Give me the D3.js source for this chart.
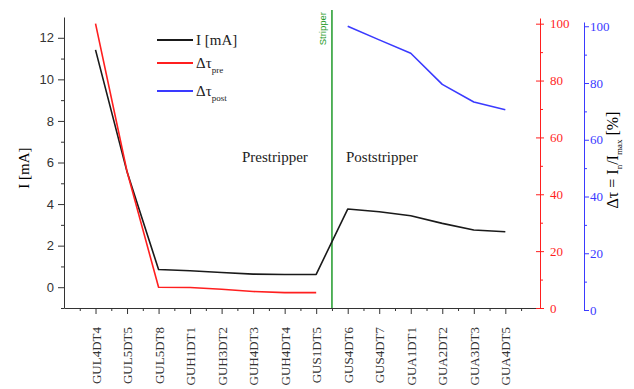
<!DOCTYPE html>
<html>
<head>
<meta charset="utf-8">
<script src="https://cdn.jsdelivr.net/npm/d3@7"></script>
<style>
  body { margin: 0; background: #fff; }
  svg { display: block; }
</style>
</head>
<body>
<div id="chart"></div>
<script>
const categories = ['GUL4DT4', 'GUL5DT5', 'GUL5DT8', 'GUH1DT1', 'GUH3DT2', 'GUH4DT3', 'GUH4DT4',
  'GUS1DT5', 'GUS4DT6', 'GUS4DT7', 'GUA1DT1', 'GUA2DT2', 'GUA3DT3', 'GUA4DT5'];
const current = [11.42, 5.55, 0.85, 0.79, 0.71, 0.63, 0.61, 0.62, 3.76, 3.63, 3.44, 3.07, 2.75, 2.67];
const tauPre = [100, 48, 7.3, 7.2, 6.6, 5.8, 5.4, 5.4];        // GUL4DT4 .. GUS1DT5
const tauPost = [100, 95.2, 90.5, 79.5, 73.3, 70.6];          // GUS4DT6 .. GUA4DT5
const postStart = 8;
const strippersAt = 7.5;
const currentTicks = [0, 2, 4, 6, 8, 10, 12];
const pctTicks = [0, 20, 40, 60, 80, 100];

const serif = '"Liberation Serif", "Times New Roman", serif';
const sans = '"Liberation Sans", Arial, sans-serif';

const W = 634, H = 389;
const svg = d3.select('#chart').append('svg')
  .attr('width', W).attr('height', H)
  .style('font-family', serif);

const x = d3.scaleLinear().domain([-1, 14.1]).range([64, 540]);
const yI = d3.scaleLinear().domain([-1, 13]).range([308, 17]);
const yPre = d3.scaleLinear().domain([0, 102]).range([308, 18]);
const yPost = d3.scaleLinear().domain([0, 101.5]).range([310, 22]);

// left axis (current)
const left = svg.append('g').attr('transform', 'translate(64,0)');
left.call(d3.axisLeft(yI).tickValues(currentTicks).tickSizeInner(6).tickSizeOuter(0).tickPadding(4));
left.append('g')
  .call(d3.axisLeft(yI).tickValues(d3.range(-1, 13, 2)).tickSize(3).tickFormat(''))
  .select('.domain').remove();
left.selectAll('path, line').attr('stroke', '#333');
left.selectAll('text')
  .style('font-family', sans)
  .style('font-size', '13px').attr('fill', '#333');

// bottom axis (categories)
const bottom = svg.append('g').attr('transform', 'translate(0,308)');
bottom.call(d3.axisBottom(x).tickValues(d3.range(categories.length))
  .tickSizeInner(6).tickSizeOuter(0).tickFormat(i => categories[i]));
bottom.append('g')
  .call(d3.axisBottom(x).tickValues(d3.range(-0.5, 14, 1)).tickSize(3).tickFormat(''))
  .select('.domain').remove();
bottom.selectAll('path, line').attr('stroke', '#333');
bottom.selectAll('text')
  .attr('transform', 'rotate(-90)')
  .attr('x', -19).attr('y', 0).attr('dy', '0.35em')
  .style('text-anchor', 'end')
  .style('font-family', serif)
  .style('font-size', '13px').attr('fill', '#333');

// right red axis (tau pre)
const red = '#ff1f1f';
const rAx = svg.append('g').attr('transform', 'translate(540,0)');
rAx.call(d3.axisRight(yPre).tickValues(pctTicks).tickSizeInner(4).tickSizeOuter(0).tickPadding(6));
rAx.selectAll('.tick line').attr('x1', -4);
rAx.append('g')
  .call(d3.axisRight(yPre).tickValues(d3.range(10, 100, 20)).tickSize(3).tickFormat(''))
  .select('.domain').remove();
rAx.selectAll('path, line').attr('stroke', red);
rAx.selectAll('text').attr('fill', red)
  .style('font-family', serif).style('font-size', '13px');

// right blue axis (tau post)
const blue = '#3a3aff';
const bAx = svg.append('g').attr('transform', 'translate(584,0)');
bAx.call(d3.axisRight(yPost).tickValues(pctTicks).tickSizeInner(5).tickSizeOuter(0).tickPadding(1));
bAx.append('g')
  .call(d3.axisRight(yPost).tickValues(d3.range(10, 100, 20)).tickSize(3).tickFormat(''))
  .select('.domain').remove();
bAx.selectAll('path, line').attr('stroke', blue);
bAx.selectAll('text').attr('fill', blue)
  .style('font-family', serif).style('font-size', '13px');

// axis titles
svg.append('text')
  .attr('transform', 'translate(29,168) rotate(-90)')
  .style('text-anchor', 'middle').style('font-size', '15px')
  .text('I [mA]');

const rt = svg.append('text')
  .attr('transform', 'translate(618,160) rotate(-90)')
  .style('text-anchor', 'middle').style('font-size', '16px');
rt.append('tspan').text('\u0394\u03c4 = I');
rt.append('tspan').attr('dy', 4).style('font-size', '9px').text('n');
rt.append('tspan').attr('dy', -4).text('/I');
rt.append('tspan').attr('dy', 4).style('font-size', '9px').text('max');
rt.append('tspan').attr('dy', -4).text(' [%]');

// stripper marker
const green = '#1f9a2a';
svg.append('line')
  .attr('x1', x(strippersAt)).attr('x2', x(strippersAt))
  .attr('y1', 10).attr('y2', 308)
  .attr('stroke', green).attr('stroke-width', 1.5);
svg.append('text')
  .attr('transform', `translate(${x(strippersAt) - 9},12) rotate(-90)`)
  .attr('dy', '0.35em')
  .style('text-anchor', 'end')
  .style('font-family', sans)
  .style('font-size', '9.5px').attr('fill', green)
  .text('Stripper');

svg.append('text').attr('x', 242).attr('y', 162)
  .style('font-size', '15px').attr('fill', '#222').text('Prestripper');
svg.append('text').attr('x', 346).attr('y', 162)
  .style('font-size', '15px').attr('fill', '#222').text('Poststripper');

// data lines
svg.append('path')
  .datum(current)
  .attr('fill', 'none').attr('stroke', '#1a1a1a').attr('stroke-width', 1.6)
  .attr('stroke-linejoin', 'round')
  .attr('d', d3.line().x((d, i) => x(i)).y(d => yI(d)));
svg.append('path')
  .datum(tauPre)
  .attr('fill', 'none').attr('stroke', red).attr('stroke-width', 1.6)
  .attr('stroke-linejoin', 'round')
  .attr('d', d3.line().x((d, i) => x(i)).y(d => yPre(d)));
svg.append('path')
  .datum(tauPost)
  .attr('fill', 'none').attr('stroke', blue).attr('stroke-width', 1.6)
  .attr('stroke-linejoin', 'round')
  .attr('d', d3.line().x((d, i) => x(i + postStart)).y(d => yPost(d)));

// legend
const legend = [
  { name: 'I [mA]', sub: null, color: '#1a1a1a', y: 40 },
  { name: '\u0394\u03c4', sub: 'pre', color: red, y: 63 },
  { name: '\u0394\u03c4', sub: 'post', color: blue, y: 91 }
];
const lg = svg.append('g').selectAll('g').data(legend).enter().append('g')
  .attr('transform', d => `translate(157,${d.y})`);
lg.append('line').attr('x1', 0).attr('x2', 36)
  .attr('stroke', d => d.color).attr('stroke-width', 1.8);
const lt = lg.append('text').attr('x', 39).attr('y', 5).style('font-size', '15px').attr('fill', '#222');
lt.append('tspan').text(d => d.name);
lt.filter(d => d.sub).append('tspan').attr('dy', 5).style('font-size', '9px').text(d => d.sub);
</script>
</body>
</html>
